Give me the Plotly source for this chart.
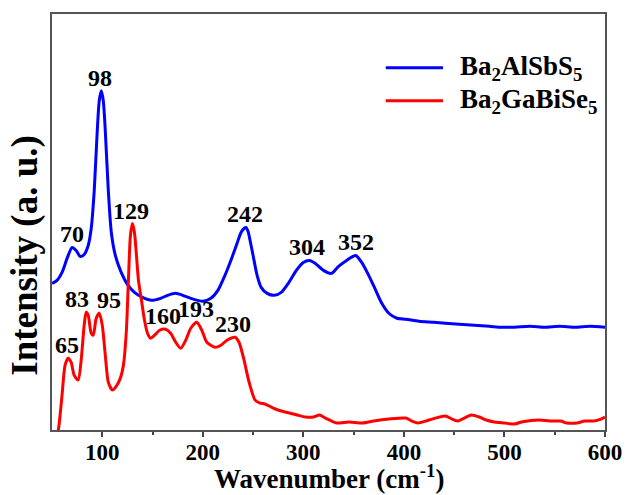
import numpy as np
import plotly.graph_objects as go

# ---------------- data (intensity in arbitrary units) ----------------
names = ["Ba<sub>2</sub>AlSbS<sub>5</sub>", "Ba<sub>2</sub>GaBiSe<sub>5</sub>"]
colors = ["#0000ff", "#ff0000"]

blue_wn = [50, 55, 60, 65, 70, 74, 78, 82, 86, 89, 92, 95, 97, 99, 101, 103, 106, 109, 113, 118,
           125, 132, 140, 149, 158, 165, 173, 180, 188, 200, 208, 215, 222, 229, 234, 238, 241, 243,
           245, 247, 250, 254, 258, 264, 271, 278, 285, 293, 300, 306, 312, 320, 328, 335, 343, 352,
           358, 365, 372, 378, 385, 393, 402, 415, 430, 441, 455, 470, 485, 497, 510, 525, 540, 555,
           570, 585, 600]
blue_px = [283, 280, 272, 258, 247, 250, 256, 254, 245, 228, 190, 130, 100, 90, 100, 130, 190, 232, 255, 270,
           284, 292, 297, 300, 298, 295, 293, 295, 298, 301, 298, 290, 275, 257, 243, 232, 228, 227,
           231, 240, 255, 275, 287, 293, 295, 292, 283, 270, 262, 260, 263, 270, 273, 266, 260, 255,
           262, 275, 290, 303, 313, 318, 319, 321, 322, 323, 324, 325, 326, 327, 327, 326, 327, 326,
           327, 326, 327]

red_wn = [54, 57, 60, 63, 66, 69, 72, 76, 79, 82, 84, 86, 89, 91, 94, 97, 100, 103, 106, 110,
          114, 118, 121, 124, 126, 128, 130, 132, 134, 136, 139, 142, 145, 148, 152, 157, 163, 168,
          173, 178, 183, 188, 194, 199, 204, 212, 218, 224, 232, 236, 241, 246, 252, 257, 262, 270,
          278, 286, 294, 302, 310, 316, 322, 333, 345, 359, 370, 385, 402, 408, 414, 425, 441, 448,
          454, 460, 467, 475, 482, 490, 500, 510, 517, 523, 535, 545, 556, 562, 572, 580, 589, 596, 600]
red_px = [445, 425, 395, 365, 358, 362, 375, 380, 360, 325, 312, 315, 333, 335, 318, 313, 325, 355, 382, 390,
          386, 378, 365, 330, 280, 235, 223, 232, 255, 280, 300, 320, 333, 338, 335, 330, 329, 333,
          342, 348, 340, 328, 322, 330, 342, 347, 345, 340, 337, 342, 360, 382, 400, 403, 404, 408,
          411, 413, 415, 417, 417, 415, 418, 423, 422, 423, 421, 419, 418, 421, 423, 420, 416, 419,
          421, 418, 415, 417, 420, 422, 423, 424, 422, 421, 420, 421, 421, 423, 423, 421, 421, 419, 417]

blue_int = [430 - v for v in blue_px]
red_int = [430 - v for v in red_px]

blue_labels = [70, 98, 242, 304, 352]
red_labels = [65, 83, 95, 129, 160, 193, 230]
label_xshift = {83: -8, 95: 12}

x_ticks = [100, 200, 300, 400, 500, 600]

# ---------------- figure ----------------
FONT = "Liberation Serif, Times New Roman, serif"
fig = go.Figure()
series = [(blue_wn, blue_int), (red_wn, red_int)]
for (wn, inten), nm, c in zip(series, names, colors):
    fig.add_trace(go.Scatter(x=wn, y=inten, mode="lines", name=nm,
                             line=dict(color=c, width=3, shape="spline", smoothing=0.7),
                             showlegend=False))

def peak_y(wn, inten, x0):
    wn = np.array(wn); inten = np.array(inten)
    m = np.abs(wn - x0) <= 4
    return float(inten[m].max()) if m.any() else float(np.interp(x0, wn, inten))

annotations = []
for labels, (wn, inten) in zip([blue_labels, red_labels], series):
    for lb in labels:
        annotations.append(dict(x=lb, y=peak_y(wn, inten, lb), text=f"<b>{lb}</b>",
                                showarrow=False, xanchor="center", yanchor="bottom",
                                xshift=label_xshift.get(lb, 0), yshift=-2,
                                font=dict(family=FONT, size=24, color="black")))

# axis titles
annotations.append(dict(x=-0.048, y=0.42, xref="paper", yref="paper", text="<b>Intensity (a. u.)</b>",
                        textangle=-90, showarrow=False, xanchor="center", yanchor="middle",
                        font=dict(family=FONT, size=37, color="black")))
annotations.append(dict(x=0.5, y=-0.158, xref="paper", yref="paper",
                        text="<b>Wavenumber (cm<sup>-1</sup>)</b>",
                        showarrow=False, xanchor="center", yanchor="bottom",
                        font=dict(family=FONT, size=27, color="black")))

# manual legend
shapes = []
leg_y = [0.8705, 0.7914]
for nm, c, yy in zip(names, colors, leg_y):
    shapes.append(dict(type="line", xref="paper", yref="paper", x0=0.6036, x1=0.7071, y0=yy, y1=yy,
                       line=dict(color=c, width=3)))
    annotations.append(dict(x=0.735, y=yy, xref="paper", yref="paper", text=f"<b>{nm}</b>",
                            showarrow=False, xanchor="left", yanchor="middle",
                            font=dict(family=FONT, size=27, color="black")))

fig.update_layout(
    width=634, height=495,
    margin=dict(l=52, r=22, t=13, b=65),
    paper_bgcolor="white", plot_bgcolor="white",
    annotations=annotations, shapes=shapes,
    xaxis=dict(range=[50, 600], tickvals=x_ticks, ticktext=[f"<b>{t}</b>" for t in x_ticks],
               ticks="outside", ticklen=5, tickwidth=1.5, tickcolor="#444",
               ticklabelstandoff=-4,
               minor=dict(tickvals=[150, 250, 350, 450, 550], ticks="outside", ticklen=3,
                          tickwidth=1.5, tickcolor="#444"),
               showline=True, linecolor="#555", linewidth=1.5, mirror=True,
               showgrid=False, zeroline=False,
               tickfont=dict(family=FONT, size=23, color="black")),
    yaxis=dict(range=[0, 417], showticklabels=False, ticks="",
               showline=True, linecolor="#555", linewidth=1.5, mirror=True,
               showgrid=False, zeroline=False),
)

fig.write_html("out.html")
